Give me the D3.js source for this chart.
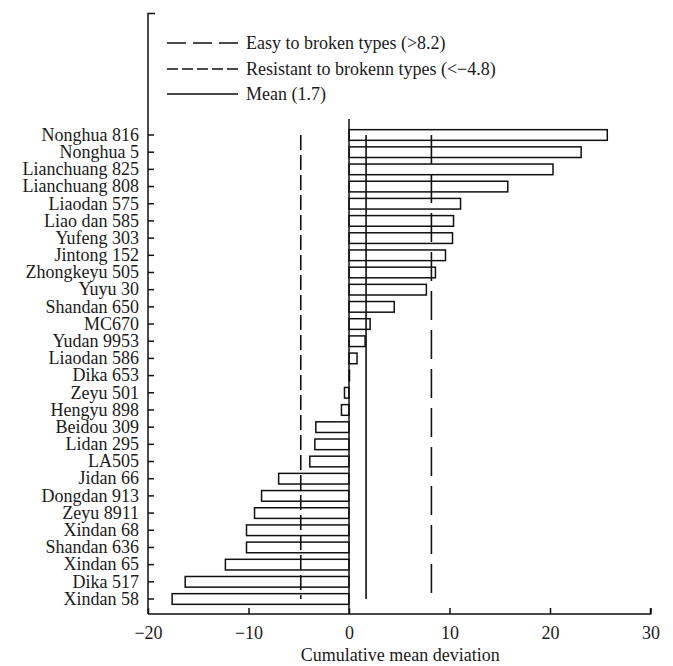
<!DOCTYPE html>
<html>
<head>
<meta charset="utf-8">
<script src="https://cdn.jsdelivr.net/npm/d3@7/dist/d3.min.js"></script>
<style>
  html, body { margin: 0; padding: 0; background: #fff; }
  svg text { font-family: "Liberation Serif", "Times New Roman", serif; fill: #1a1a1a; }
</style>
</head>
<body>
<svg id="chart" width="673" height="666"></svg>
<script>
const categories = ["Nonghua 816","Nonghua 5","Lianchuang 825","Lianchuang 808","Liaodan 575","Liao dan 585","Yufeng 303","Jintong 152","Zhongkeyu 505","Yuyu 30","Shandan 650","MC670","Yudan 9953","Liaodan 586","Dika 653","Zeyu 501","Hengyu 898","Beidou 309","Lidan 295","LA505","Jidan 66","Dongdan 913","Zeyu 8911","Xindan 68","Shandan 636","Xindan 65","Dika 517","Xindan 58"];
const values = [25.7,23.1,20.3,15.8,11.1,10.4,10.3,9.6,8.6,7.7,4.5,2.1,1.6,0.8,0.05,-0.45,-0.75,-3.3,-3.4,-3.9,-7.0,-8.7,-9.4,-10.2,-10.2,-12.3,-16.3,-17.6];
const xTicks = [-20,-10,0,10,20,30];
const xTickLabels = ["\u221220","\u221210","0","10","20","30"];
const refValues = [8.2, -4.8, 1.7];
const refLabels = ["Easy to broken types (>8.2)", "Resistant to brokenn types (<\u22124.8)", "Mean (1.7)"];
const refDash = ["29,10", "15,5", null];
const legendDash = ["19,7", "11,4", null];
const xTitle = "Cumulative mean deviation";

(function () {
const svg = d3.select("#chart");
const mLeft = 148, mRight = 650.5, mTop = 13.5, mBottom = 614;
const ink = "#111";

const x = d3.scaleLinear().domain([-20, 30]).range([mLeft, mRight]);
const step = (599 - 135) / (categories.length - 1);
const y = d3.scaleBand().domain(categories)
  .range([135 - step / 2, 599 + step / 2])
  .paddingInner(0.38).paddingOuter(0.19);
const yc = d => y(d) + y.bandwidth() / 2;

// bars
svg.append("g").selectAll("rect").data(categories).join("rect")
  .attr("x", (d, i) => x(Math.min(0, values[i])))
  .attr("width", (d, i) => Math.abs(x(values[i]) - x(0)))
  .attr("y", d => y(d))
  .attr("height", y.bandwidth())
  .attr("fill", "#fff").attr("stroke", ink).attr("stroke-width", 1.5);

// zero line
svg.append("line").attr("x1", x(0)).attr("x2", x(0)).attr("y1", 119).attr("y2", mBottom)
  .attr("stroke", ink).attr("stroke-width", 1.5);

// reference lines
const firstC = yc(categories[0]), lastC = yc(categories[categories.length - 1]);
refValues.forEach((v, i) => {
  svg.append("line").attr("x1", x(v)).attr("x2", x(v)).attr("y1", firstC).attr("y2", lastC)
    .attr("stroke", ink).attr("stroke-width", 1.6)
    .attr("stroke-dasharray", refDash[i]);
});

// x axis
const xAxis = d3.axisBottom(x).tickValues(xTicks)
  .tickFormat((d, i) => xTickLabels[i]).tickSizeInner(-6).tickSizeOuter(0).tickPadding(12);
const gx = svg.append("g").attr("transform", `translate(0,${mBottom})`).call(xAxis);
gx.select(".domain").attr("stroke", ink).attr("stroke-width", 1.5).attr("d", `M${mLeft},0H${mRight}V-6`);
gx.selectAll(".tick line").attr("stroke", ink).attr("stroke-width", 1.5);
gx.selectAll(".tick text").attr("font-size", 18).attr("font-family", "Liberation Serif").attr("fill", "#1a1a1a");

// y axis
const yAxis = d3.axisLeft(y).tickSizeInner(-6).tickSizeOuter(0).tickPadding(9);
const gy = svg.append("g").attr("transform", `translate(${mLeft},0)`).call(yAxis);
gy.select(".domain").attr("stroke", ink).attr("stroke-width", 1.5).attr("d", `M7,${mTop}H0V${mBottom}`);
gy.selectAll(".tick line").attr("stroke", ink).attr("stroke-width", 1.5);
gy.selectAll(".tick text").attr("font-size", 18).attr("font-family", "Liberation Serif").attr("fill", "#1a1a1a");

// x title
svg.append("text").attr("x", (x(-20) + x(30)) / 2 + 1).attr("y", 661)
  .attr("text-anchor", "middle").attr("font-size", 18).text(xTitle);

// legend
const legY = [43, 69, 94];
refLabels.forEach((t, i) => {
  svg.append("line").attr("x1", 167).attr("x2", 238).attr("y1", legY[i]).attr("y2", legY[i])
    .attr("stroke", ink).attr("stroke-width", 1.6).attr("stroke-dasharray", legendDash[i]);
  svg.append("text").attr("x", 246).attr("y", legY[i]).attr("dy", "0.35em")
    .attr("font-size", 18).text(t);
});
})();
</script>
</body>
</html>
